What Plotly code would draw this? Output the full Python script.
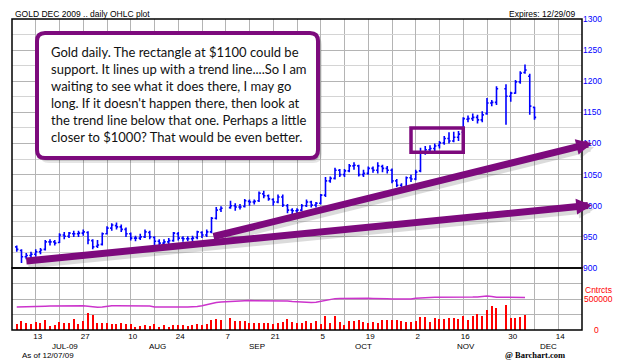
import numpy as np
import pandas as pd
import plotly.graph_objects as go

# ---------------- data ----------------
trade_dates = pd.bdate_range("2009-07-07", "2009-12-07")
trade_dates = trade_dates[~trade_dates.isin(pd.to_datetime(["2009-09-07", "2009-11-26"]))]

open_ = [934, 928, 918, 920, 922, 926, 930, 942, 942, 941, 953, 951, 955, 955, 956, 957, 944, 935, 938, 955,
         964, 968, 966, 962, 955, 948, 948, 950, 957, 949, 943, 940, 942, 944, 955, 948, 947, 947, 949, 957,
         953, 958, 980, 994,
         997, 1000, 998, 999, 1007, 1006, 1008, 1019, 1016, 1010, 1006, 1014, 1000, 993, 992, 993, 1000, 1006,
         1001, 1004, 1017, 1040, 1044, 1057, 1050, 1056, 1064, 1064, 1050, 1052, 1060, 1057, 1063, 1060, 1057,
         1040, 1033, 1028, 1045, 1043, 1056, 1085, 1090, 1092, 1097, 1101, 1108, 1104, 1110, 1118, 1139, 1140,
         1142, 1138, 1148, 1165, 1166,
         1188, 1176, 1181, 1199, 1214, 1208, 1158]
high = [936, 930, 924, 926, 930, 932, 945, 946, 945, 956, 958, 958, 960, 960, 962, 959, 946, 945, 957, 967,
        972, 973, 970, 965, 957, 952, 955, 962, 960, 951, 946, 946, 948, 958, 958, 951, 951, 952, 960, 959,
        962, 982, 998, 999,
        1008, 1004, 1003, 1011, 1010, 1010, 1023, 1024, 1018, 1012, 1018, 1018, 1003, 996, 996, 1003, 1010,
        1008, 1006, 1019, 1046, 1047, 1061, 1059, 1059, 1067, 1070, 1066, 1058, 1063, 1063, 1070, 1066, 1064,
        1060, 1043, 1036, 1047, 1050, 1058, 1093, 1096, 1097, 1100, 1104, 1112, 1118, 1119, 1120, 1142, 1145,
        1148, 1146, 1152, 1173, 1170, 1192,
        1195, 1183, 1202, 1216, 1227, 1212, 1159]
low = [926, 908, 914, 915, 918, 922, 928, 936, 936, 940, 946, 948, 950, 950, 952, 938, 930, 932, 936, 954,
       960, 962, 958, 950, 944, 943, 945, 948, 946, 937, 936, 935, 938, 942, 944, 942, 943, 942, 946, 948,
       950, 956, 978, 990,
       995, 992, 994, 997, 1000, 1002, 1006, 1012, 1008, 1000, 1004, 998, 988, 986, 988, 991, 998, 997, 997,
       1002, 1014, 1037, 1042, 1046, 1046, 1054, 1058, 1047, 1046, 1050, 1053, 1052, 1054, 1052, 1036, 1030,
       1025, 1026, 1038, 1041, 1054, 1082, 1084, 1088, 1092, 1098, 1100, 1102, 1104, 1116, 1134, 1136, 1132,
       1134, 1146, 1160, 1162,
       1130, 1167, 1180, 1196, 1212, 1146, 1138]
close = [930, 918, 920, 922, 926, 929, 942, 942, 940, 953, 951, 956, 955, 956, 958, 945, 934, 937, 955, 964,
         969, 966, 962, 955, 948, 948, 950, 958, 950, 943, 940, 942, 944, 956, 948, 947, 947, 948, 958, 953,
         958, 980, 993, 996,
         1000, 998, 998, 1008, 1006, 1007, 1020, 1016, 1011, 1006, 1014, 1001, 993, 992, 993, 1000, 1006, 1001,
         1004, 1017, 1040, 1044, 1057, 1050, 1056, 1064, 1065, 1050, 1052, 1060, 1057, 1064, 1060, 1057, 1040,
         1033, 1028, 1045, 1043, 1054, 1085, 1090, 1092, 1096, 1101, 1108, 1104, 1110, 1115, 1140, 1140, 1142,
         1138, 1146, 1165, 1166, 1188,
         1176, 1181, 1199, 1213, 1218, 1160, 1142]
volume = [97, 145, 108, 91, 124, 108, 161, 70, 81, 134, 108, 108, 177, 91, 145, 269, 242, 113, 118, 108,
          97, 97, 113, 91, 91, 54, 70, 81, 70, 97, 54, 81, 54, 81, 81, 81, 65, 75, 97, 81,
          102, 161, 172, 156,
          188, 145, 145, 145, 108, 113, 108, 108, 108, 97, 108, 124, 172, 134, 108, 108, 145, 118, 145, 97,
          226, 108, 231, 134, 81, 145, 145, 161, 134, 108, 134, 108, 161, 161, 161, 161, 145, 134, 134, 145,
          215, 215, 134, 188, 177, 177, 188, 199, 172, 226, 161, 226, 253, 231, 323, 392, 360,
          403, 199, 188, 210, 242, None, None]
open_interest = [370, 371, 371, 372, 374, 378, 384, 388, 390, 392, 392, 390, 392, 393, 390, 382, 368, 365, 370,
                 384, 390, 392, 391, 392, 390, 391, 392, 390, 386, 372, 370, 371, 368, 371, 370, 369, 372, 374,
                 380, 392, 410, 430, 442, 450,
                 462, 468, 470, 472, 474, 473, 474, 472, 473, 474, 472, 470, 468, 458, 452, 455, 450, 442, 446,
                 462, 482, 498, 506, 510, 512, 511, 512, 510, 511, 512, 510, 511, 510, 505, 500, 498, 500, 499,
                 502, 512, 520, 524, 526, 527, 526, 527, 528, 526, 527, 528, 530, 531, 534, 545, 548, 542, 530,
                 528, 527, 526, 527, 526, None, None]

tick_dates = ["2009-07-13", "2009-07-27", "2009-08-10", "2009-08-24", "2009-09-07", "2009-09-21",
              "2009-10-05", "2009-10-19", "2009-11-02", "2009-11-16", "2009-11-30", "2009-12-14"]
tick_labels = ["13", "27", "10", "24", "7", "21", "5", "19", "2", "16", "30", "14"]
month_labels = ["JUL-09", "AUG", "SEP", "OCT", "NOV", "DEC"]
price_ticks = [900, 950, 1000, 1050, 1100, 1150, 1200, 1250, 1300]

note_text = ("Gold daily. The rectangle at $1100 could be<br>"
             "support. It lines up with a trend line....So I am<br>"
             "waiting to see what it does there, I may go<br>"
             "long. If it doesn't happen there, then look at<br>"
             "the trend line below that one. Perhaps a little<br>"
             "closer to $1000? That would be even better.")

# ---------------- positions (weekday index from Mon 2009-07-06) ----------------
base = np.datetime64("2009-07-06")
xi = np.busday_count(base, trade_dates.values.astype("datetime64[D]"))
tick_x = np.busday_count(base, np.array(tick_dates, dtype="datetime64[D]"))
vol_units = [v * 1000 if v is not None else None for v in volume]
oi_units = [v * 1000 if v is not None else None for v in open_interest]

W, H = 625, 364
ML, MR, MT, MB = 12, 43, 19, 34
PW, PH = W - ML - MR, H - MT - MB
VOL_TOP = 62 / PH

def px(xp):
    return (xp - ML) / PW

def py(yp):
    return (H - MB - yp) / PH

PURPLE = "#7d0a7d"
BLUE = "#0000ff"
RED = "#ff0000"
FONT = "Liberation Sans"

fig = go.Figure()
fig.add_trace(go.Ohlc(x=xi, open=open_, high=high, low=low, close=close,
                      increasing=dict(line=dict(color=BLUE, width=1.6)),
                      decreasing=dict(line=dict(color=BLUE, width=1.6)),
                      tickwidth=0.35, xaxis="x", yaxis="y", hoverinfo="skip"))
fig.add_trace(go.Bar(x=xi, y=vol_units, marker=dict(color=RED, line=dict(width=0)), width=0.3,
                     xaxis="x", yaxis="y2"))
fig.add_trace(go.Scatter(x=xi, y=oi_units, mode="lines", line=dict(color="#cc33cc", width=1.5),
                         xaxis="x", yaxis="y2"))

GRID = "#b4b4b4"
GRID2 = "#d4d4d4"
fig.update_layout(
    width=W, height=H, margin=dict(l=ML, r=MR, t=MT, b=MB),
    paper_bgcolor="white", plot_bgcolor="white", showlegend=False,
    bargap=0,
    xaxis=dict(domain=[0, 1], range=[0, 120], anchor="y2", tickmode="array", tickvals=tick_x,
               ticktext=tick_labels, showgrid=True, gridcolor=GRID, gridwidth=1,
               minor=dict(tick0=0, dtick=5, showgrid=True, gridcolor=GRID, gridwidth=1),
               tickfont=dict(family=FONT, size=8, color="black"), ticks="", zeroline=False,
               ticklabelshift=2,
               rangeslider=dict(visible=False), showline=False, fixedrange=True),
    yaxis=dict(domain=[VOL_TOP, 1], range=[900, 1300], side="right", anchor="x", tickmode="array",
               tickvals=price_ticks, tickfont=dict(family=FONT, size=8.5, color=BLUE),
               showgrid=True, gridcolor=GRID, minor=dict(tick0=900, dtick=25, showgrid=True, gridcolor=GRID2),
               zeroline=False, ticks="", showline=False),
    yaxis2=dict(domain=[0, VOL_TOP], range=[0, 1000000], side="right", anchor="x", tickmode="array",
                tickvals=[250000, 500000, 750000], showticklabels=False, showgrid=True, gridcolor=GRID,
                zeroline=False, ticks="", showline=False),
)

shapes = []
# trend-line rectangle
shapes.append(dict(type="rect", xref="x", yref="y", x0=84, x1=95, y0=1086, y1=1125,
                   line=dict(color=PURPLE, width=3.5), fillcolor="rgba(0,0,0,0)", layer="above"))
# panel frames
shapes.append(dict(type="rect", xref="paper", yref="paper", x0=0, x1=1, y0=VOL_TOP, y1=1,
                   line=dict(color="black", width=1.5), layer="above"))
shapes.append(dict(type="rect", xref="paper", yref="paper", x0=0, x1=1, y0=0, y1=VOL_TOP,
                   line=dict(color="black", width=1.5), layer="above"))

def rounded(x0p, y0p, x1p, y1p, r):
    x0, x1, y0, y1 = px(x0p), px(x1p), py(y1p), py(y0p)
    rx, ry = r / PW, r / PH
    return (f"M{x0+rx},{y1} L{x1-rx},{y1} Q{x1},{y1} {x1},{y1-ry} L{x1},{y0+ry} Q{x1},{y0} {x1-rx},{y0} "
            f"L{x0+rx},{y0} Q{x0},{y0} {x0},{y0+ry} L{x0},{y1-ry} Q{x0},{y1} {x0+rx},{y1} Z")

# note box shadow + box
shapes.append(dict(type="path", xref="paper", yref="paper", path=rounded(40, 36, 322, 163, 9),
                   fillcolor="rgba(0,0,0,0.10)", line=dict(width=0), layer="above"))
shapes.append(dict(type="path", xref="paper", yref="paper", path=rounded(39, 35, 320, 161, 8),
                   fillcolor="rgba(0,0,0,0.14)", line=dict(width=0), layer="above"))
shapes.append(dict(type="path", xref="paper", yref="paper", path=rounded(37, 33, 318, 158, 8),
                   fillcolor="white", line=dict(color=PURPLE, width=4), layer="above"))
fig.update_layout(shapes=shapes)

ann = []
# trend-line arrows (soft shadow then line)
arrows = [((2.7, 911), (122.1, 1001)), ((42.1, 950), (122.1, 1100.5))]
for (tx, ty), (hx, hy) in arrows:
    ann.append(dict(x=hx, y=hy, ax=tx, ay=ty, xref="x", yref="y", axref="x", ayref="y", text="",
                    showarrow=True, arrowhead=2, arrowsize=0.45, arrowwidth=7,
                    arrowcolor="rgba(60,60,60,0.18)", xshift=2, yshift=-4, standoff=0))
for (tx, ty), (hx, hy) in arrows:
    ann.append(dict(x=hx, y=hy, ax=tx, ay=ty, xref="x", yref="y", axref="x", ayref="y", text="",
                    showarrow=True, arrowhead=2, arrowsize=0.45, arrowwidth=7,
                    arrowcolor=PURPLE, standoff=0))

ann.append(dict(x=px(49), y=py(42), xref="paper", yref="paper", xanchor="left", yanchor="top",
                text=note_text, align="left", showarrow=False,
                font=dict(family="Lato", size=13, color="#111111")))

ann.append(dict(x=px(13), y=py(14), xref="paper", yref="paper", xanchor="left", yanchor="middle",
                text="GOLD DEC 2009 .. daily OHLC plot", showarrow=False,
                font=dict(family=FONT, size=8.5, color="black")))
ann.append(dict(x=px(577), y=py(14), xref="paper", yref="paper", xanchor="right", yanchor="middle",
                text="Expires: 12/29/09", showarrow=False, font=dict(family=FONT, size=8.5, color="black")))

month_x = [65, 157, 257, 363, 466, 548]
for lab, mx in zip(month_labels, month_x):
    ann.append(dict(x=px(mx), y=py(346), xref="paper", yref="paper", xanchor="center", yanchor="middle",
                    text=lab, showarrow=False, font=dict(family=FONT, size=8, color="black")))
ann.append(dict(x=px(20), y=py(355), xref="paper", yref="paper", xanchor="left", yanchor="middle",
                text="As of 12/07/09", showarrow=False, font=dict(family=FONT, size=8, color="black")))
ann.append(dict(x=px(535), y=py(355), xref="paper", yref="paper", xanchor="center", yanchor="middle",
                text="<b>@ Barchart.com</b>", showarrow=False,
                font=dict(family="Liberation Serif", size=8.5, color="black")))

# volume axis labels
ann.append(dict(x=px(598), y=645000, xref="paper", yref="y2", xanchor="center", yanchor="middle",
                text="Cntrcts", showarrow=False, font=dict(family=FONT, size=8.5, color=RED)))
ann.append(dict(x=px(598), y=500000, xref="paper", yref="y2", xanchor="center", yanchor="middle",
                text="500000", showarrow=False, font=dict(family=FONT, size=8.5, color=RED)))
ann.append(dict(x=px(596), y=0, xref="paper", yref="y2", xanchor="center", yanchor="middle",
                text="0", showarrow=False, font=dict(family=FONT, size=8.5, color=RED)))
fig.update_layout(annotations=ann)

fig.write_html("out.html")
